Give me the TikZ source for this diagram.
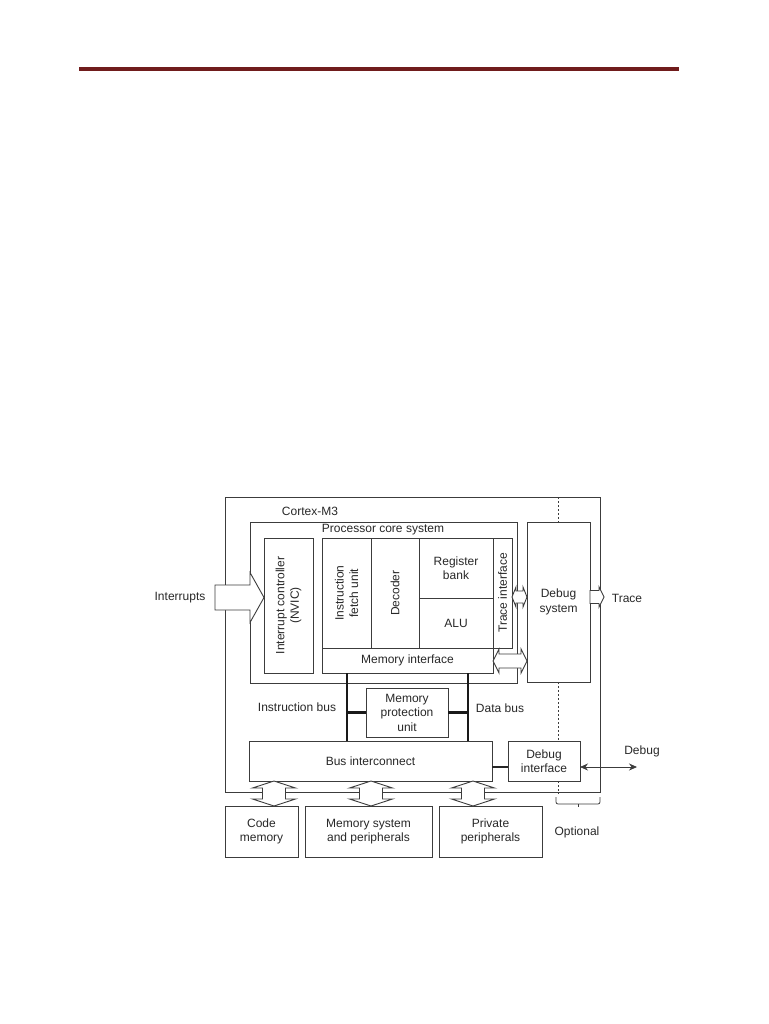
\documentclass[tikz,border=0pt]{standalone}
\usepackage{fontspec}
\setmainfont{Liberation Sans}
\usetikzlibrary{arrows.meta,calc}
\definecolor{rulered}{RGB}{112,28,28}
\definecolor{ln}{RGB}{60,60,60}
\definecolor{tx}{RGB}{40,40,40}
\newcommand\hdarrow[5]{% left, right, head half, shaft half, head length
  \draw[barrow] (#1) -- ([shift={(#5,-#3)}]#1) -- ([shift={(#5,-#4)}]#1) -- ([shift={(-#5,-#4)}]#2) -- ([shift={(-#5,-#3)}]#2) -- (#2) -- ([shift={(-#5,#3)}]#2) -- ([shift={(-#5,#4)}]#2) -- ([shift={(#5,#4)}]#1) -- ([shift={(#5,#3)}]#1) -- cycle;}
\newcommand\vdarrow[5]{% top, bottom, head half, shaft half, head length
  \draw[barrow] (#1) -- ([shift={(#3,#5)}]#1) -- ([shift={(#4,#5)}]#1) -- ([shift={(#4,-#5)}]#2) -- ([shift={(#3,-#5)}]#2) -- (#2) -- ([shift={(-#3,-#5)}]#2) -- ([shift={(-#4,-#5)}]#2) -- ([shift={(-#4,#5)}]#1) -- ([shift={(-#3,#5)}]#1) -- cycle;}
\newcommand\hsarrow[5]{% tail, tip, head half, shaft half, head length
  \draw[barrow] ([shift={(0,-#4)}]#1) -- ([shift={(-#5,-#4)}]#2) -- ([shift={(-#5,-#3)}]#2) -- (#2) -- ([shift={(-#5,#3)}]#2) -- ([shift={(-#5,#4)}]#2) -- ([shift={(0,#4)}]#1) -- cycle;}
\begin{document}
\begin{tikzpicture}[x=1pt,y=-1pt,
  every node/.style={font=\fontsize{12}{14.5}\selectfont, text=tx},
  box/.style={draw=ln, line width=0.9pt, inner sep=0pt, outer sep=0pt, fill=white},
  lbl/.style={inner sep=0pt, outer sep=0pt, align=center},
  barrow/.style={draw=ln, line width=0.9pt, fill=white, line join=miter},
  busline/.style={line width=2.6pt, draw=black!90},
  link/.style={line width=1.6pt, draw=black!85},
  optline/.style={draw=ln, line width=0.6pt, dash pattern=on 2pt off 2pt}]
\useasboundingbox (0,0) rectangle (768,1024);
% top rule
\draw[rulered, line width=4pt] (79,69) -- (679,69);

% outer and main boxes
\node[box, minimum width=375, minimum height=295] (outer) at (412.5,644.5) {};
\node[box, minimum width=267, minimum height=161] (proc) at (383.5,602.5) {};
\node[box, minimum width=63, minimum height=160] (dbgsys) at (558.5,602) {};
\node[lbl] at (dbgsys) {Debug\\system};

\node[box, minimum width=49, minimum height=135] (nvic) at (288.5,605.5) {};
\node[lbl, rotate=90] at (nvic) {Interrupt controller\\(NVIC)};
\node[box, minimum width=49, minimum height=110] (fetch) at (346.5,593) {};
\node[lbl, rotate=90] at (fetch) {Instruction\\fetch unit};
\node[box, minimum width=48, minimum height=110] (dec) at (395,593) {};
\node[lbl, rotate=90] at (dec) {Decoder};
\node[box, minimum width=74, minimum height=60] (reg) at (456,568) {};
\node[lbl] at (reg) {Register\\bank};
\node[box, minimum width=74, minimum height=50] (alu) at (456,623) {};
\node[lbl] at (alu) {ALU};
\node[box, minimum width=19, minimum height=110] (trace) at (502.5,593) {};
\node[lbl, rotate=90] at (trace) {Trace interface};
\node[box, minimum width=171, minimum height=25] (memif) at (407.5,660.5) {};
\node[lbl] at (memif) {Memory interface};

\node[box, minimum width=82, minimum height=49] (mpu) at (407,712.5) {};
\node[lbl] at (mpu) {Memory\\protection\\unit};
\node[box, minimum width=243, minimum height=40] (busic) at (370.5,761) {};
\node[lbl] at (busic) {Bus interconnect};
\node[box, minimum width=72, minimum height=40] (dbgif) at (544,761) {};
\node[lbl] at (dbgif) {Debug\\interface};

\node[box, minimum width=73, minimum height=51] (code) at (261.5,831.5) {};
\node[lbl] at (code) {Code\\memory};
\node[box, minimum width=127, minimum height=51] (memsys) at (368.5,831.5) {};
\node[lbl] at (memsys) {Memory system\\and peripherals};
\node[box, minimum width=103, minimum height=51] (priv) at (490.5,831.5) {};
\node[lbl] at (priv) {Private\\peripherals};

% titles
\node[lbl] (cm3) at ([shift={(85,14)}]outer.north west) {Cortex-M3};
\node[lbl, anchor=north] (pcs) at ([shift={(-0.5,2)}]proc.north) {Processor core system};

% buses
\coordinate (ib) at ([shift={(-60.5,0)}]memif.south);
\coordinate (db) at ([shift={(60.5,0)}]memif.south);
\draw[busline] (ib) -- (ib |- busic.north);
\draw[busline] (db) -- (db |- busic.north);
\draw[busline] (mpu.west) -- (mpu.west -| ib);
\draw[busline] (mpu.east) -- (mpu.east -| db);
\node[lbl] (ibl) at (297,707) {Instruction bus};
\node[lbl] (dbl) at (500,708) {Data bus};

\coordinate (bl) at ([shift={(0,6)}]busic.east);
\draw[link] (bl) -- (bl -| dbgif.west);

% dashed optional boundary
\draw[optline] (dbgsys.north |- outer.north) -- (dbgsys.north);
\draw[optline] (dbgsys.south) -- (dbgsys.south |- dbgif.north);
\draw[optline] (dbgsys.south |- dbgif.south) -- ([shift={(0,2)}]dbgsys.south |- outer.south);

% brace
\draw[ln, line width=0.8pt, rounded corners=2pt] (556,797) |- (600,804) -- (600,797);
\draw[ln, line width=0.8pt] (578,804) -- (578,807);
\node[lbl] (opt) at (577,832) {Optional};

% interrupts
\coordinate (intip) at ([shift={(0,-8)}]nvic.west);
\coordinate (intail) at ([shift={(-49,0)}]intip);
\hsarrow{intail}{intip}{25}{12.5}{14}
\node[lbl] (intl) at (180,598) {Interrupts};

% trace interface <-> debug system
\coordinate (ta1) at ([shift={(0,4)}]trace.east);
\coordinate (ta2) at (ta1 -| dbgsys.west);
\hdarrow{ta1}{ta2}{10}{6}{4}
% memory interface <-> debug system
\coordinate (ma1) at ([shift={(0,0.5)}]memif.east);
\coordinate (ma2) at (ma1 -| dbgsys.west);
\hdarrow{ma1}{ma2}{12}{7}{6}

% trace out
\coordinate (tr1) at ([shift={(0,-5)}]dbgsys.east);
\coordinate (tr2) at ([shift={(14,0)}]tr1);
\hsarrow{tr1}{tr2}{10}{6.5}{5}
\node[lbl] (trl) at (627,598) {Trace};

% debug port
\coordinate (dp1) at ([shift={(0,6)}]dbgif.east);
\coordinate (dp2) at ([shift={(57,0)}]dp1);
\draw[ln, line width=0.8pt, {Stealth[length=8pt,width=7pt]}-{Stealth[length=8pt,width=7pt]}] (dp1) -- (dp2);
\node[lbl] (dpl) at (642,751) {Debug};

% bus interconnect <-> memories
\coordinate (a1b) at ([shift={(12.5,0)}]code.north);
\coordinate (a1t) at (a1b |- busic.south);
\vdarrow{a1t}{a1b}{21.5}{11.5}{7}
\coordinate (a2b) at ([shift={(2.5,0)}]memsys.north);
\coordinate (a2t) at (a2b |- busic.south);
\vdarrow{a2t}{a2b}{21.5}{11.5}{7}
\coordinate (a3b) at ([shift={(-17.5,0)}]priv.north);
\coordinate (a3t) at (a3b |- busic.south);
\vdarrow{a3t}{a3b}{21.5}{11.5}{7}
\end{tikzpicture}
\end{document}
